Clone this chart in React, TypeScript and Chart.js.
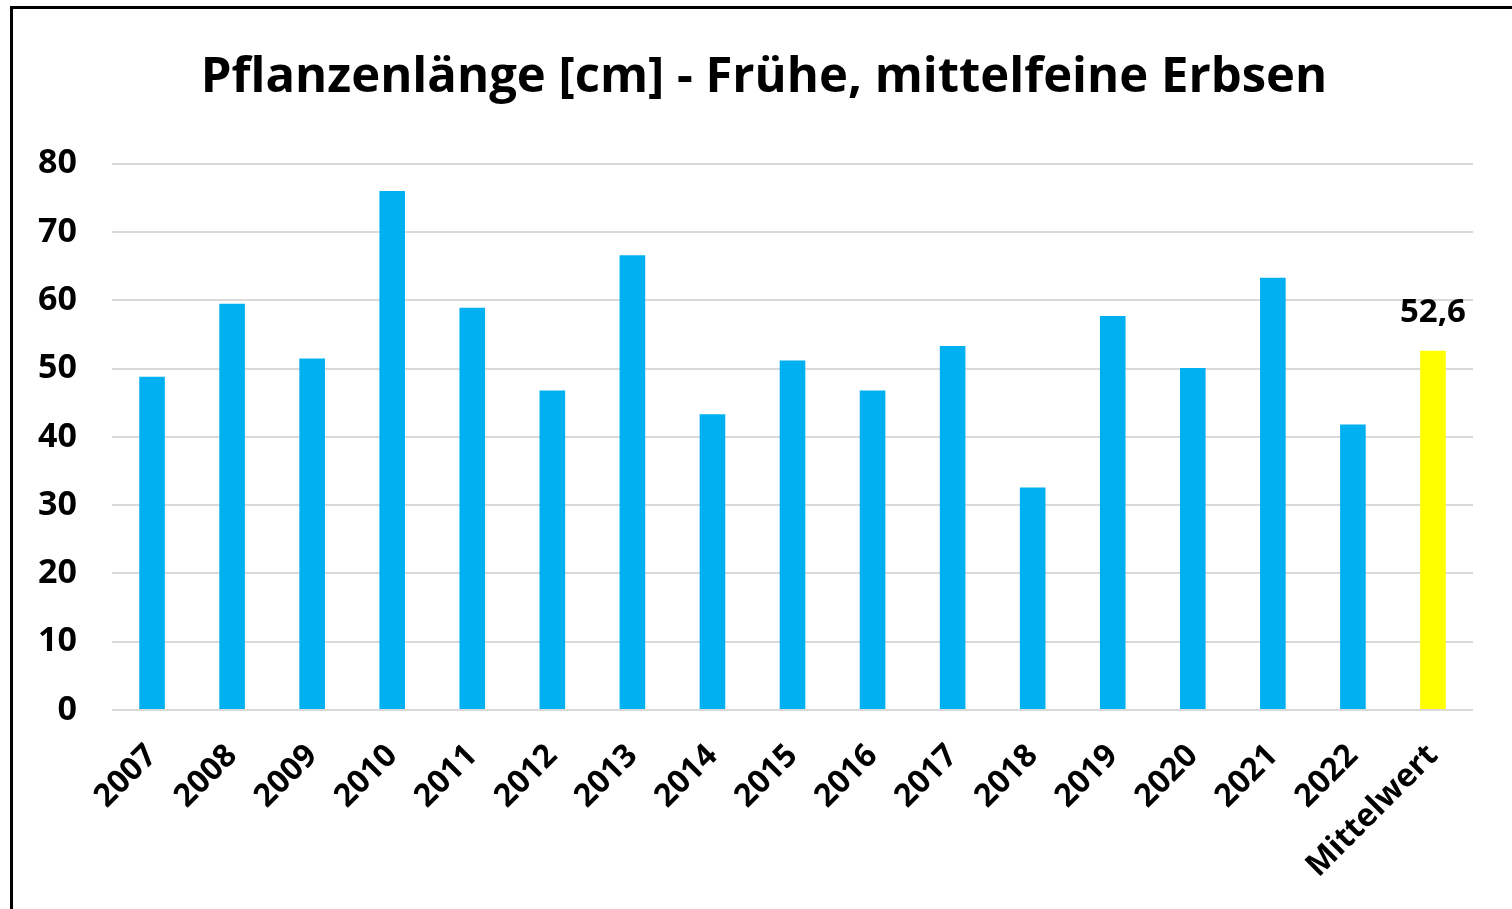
import React, { useEffect, useRef } from "react";
import { Chart, registerables } from "chart.js";

Chart.register(...registerables);

const categories = [
  "2007", "2008", "2009", "2010", "2011", "2012", "2013", "2014",
  "2015", "2016", "2017", "2018", "2019", "2020", "2021", "2022", "Mittelwert",
];
const values = [
  48.8, 59.5, 51.5, 76.0, 58.9, 46.8, 66.6, 43.3,
  51.2, 46.8, 53.3, 32.6, 57.7, 50.1, 63.3, 41.8, 52.6,
];
const barColors = [
  "#00B0F0", "#00B0F0", "#00B0F0", "#00B0F0", "#00B0F0", "#00B0F0", "#00B0F0", "#00B0F0",
  "#00B0F0", "#00B0F0", "#00B0F0", "#00B0F0", "#00B0F0", "#00B0F0", "#00B0F0", "#00B0F0", "#FFFF00",
];
const yTicks = [0, 10, 20, 30, 40, 50, 60, 70, 80];
const labelledIndex = 16;
const titleText = "Pflanzenlänge [cm] - Frühe, mittelfeine Erbsen";

const FONT = "'Open Sans', Lato, sans-serif";

const valueLabelPlugin = {
  id: "valueLabel",
  afterDatasetsDraw(chart: any) {
    const meta = chart.getDatasetMeta(0);
    const el = meta.data[labelledIndex];
    if (!el) return;
    const ctx = chart.ctx;
    ctx.save();
    ctx.font = `bold 33px ${FONT}`;
    ctx.fillStyle = "#000000";
    ctx.textAlign = "center";
    ctx.textBaseline = "middle";
    const v = values[labelledIndex];
    ctx.fillText(v.toFixed(1).replace(".", ","), el.x, el.y - 38);
    ctx.restore();
  },
};

export default function App() {
  const canvasRef = useRef<HTMLCanvasElement | null>(null);

  useEffect(() => {
    const canvas = canvasRef.current;
    if (!canvas) return;
    const chart = new Chart(canvas, {
      type: "bar",
      data: {
        labels: categories,
        datasets: [
          {
            data: values,
            backgroundColor: barColors,
            borderWidth: 0,
            categoryPercentage: 1,
            barPercentage: 0.32,
          },
        ],
      },
      options: {
        responsive: false,
        animation: false,
        layout: { padding: { left: 16, right: 0, top: 0, bottom: 0 } },
        plugins: {
          legend: { display: false },
          tooltip: { enabled: false },
          title: {
            display: true,
            text: titleText,
            color: "#000000",
            font: { family: FONT, size: 49, weight: "bold", lineHeight: 1.2 },
            padding: { top: 49, bottom: 56 },
          },
        },
        scales: {
          x: {
            grid: { display: false, drawTicks: false },
            border: { display: false },
            ticks: {
              color: "#000000",
              font: { family: FONT, size: 32, weight: "bold" },
              minRotation: 45,
              maxRotation: 45,
              padding: 27,
              autoSkip: false,
            },
            afterFit(scale: any) {
              scale.height = 199;
            },
          },
          y: {
            min: 0,
            max: 80,
            afterBuildTicks(scale: any) {
              scale.ticks = yTicks.map((v) => ({ value: v }));
            },
            grid: { color: "#D9D9D9", lineWidth: 2, drawTicks: false },
            border: { display: false },
            ticks: {
              color: "#000000",
              font: { family: FONT, size: 34, weight: "bold" },
              padding: 35,
            },
            afterFit(scale: any) {
              scale.width = 96;
            },
          },
          yRight: {
            position: "right",
            min: 0,
            max: 80,
            grid: { display: false, drawTicks: false },
            border: { display: false },
            ticks: { display: false },
            afterFit(scale: any) {
              scale.width = 39;
            },
          },
        },
      },
      plugins: [valueLabelPlugin],
    });
    return () => chart.destroy();
  }, []);

  return (
    <div
      style={{
        position: "fixed",
        left: 0,
        top: 0,
        width: 1512,
        height: 909,
        overflow: "hidden",
        background: "#ffffff",
      }}
    >
      <div
        style={{
          position: "absolute",
          left: 10,
          top: 6,
          width: 1600,
          height: 1000,
          border: "3px solid #000000",
        }}
      />
      <canvas
        ref={canvasRef}
        width={1512}
        height={909}
        style={{ position: "absolute", left: 0, top: 0, width: 1512, height: 909 }}
      />
    </div>
  );
}
